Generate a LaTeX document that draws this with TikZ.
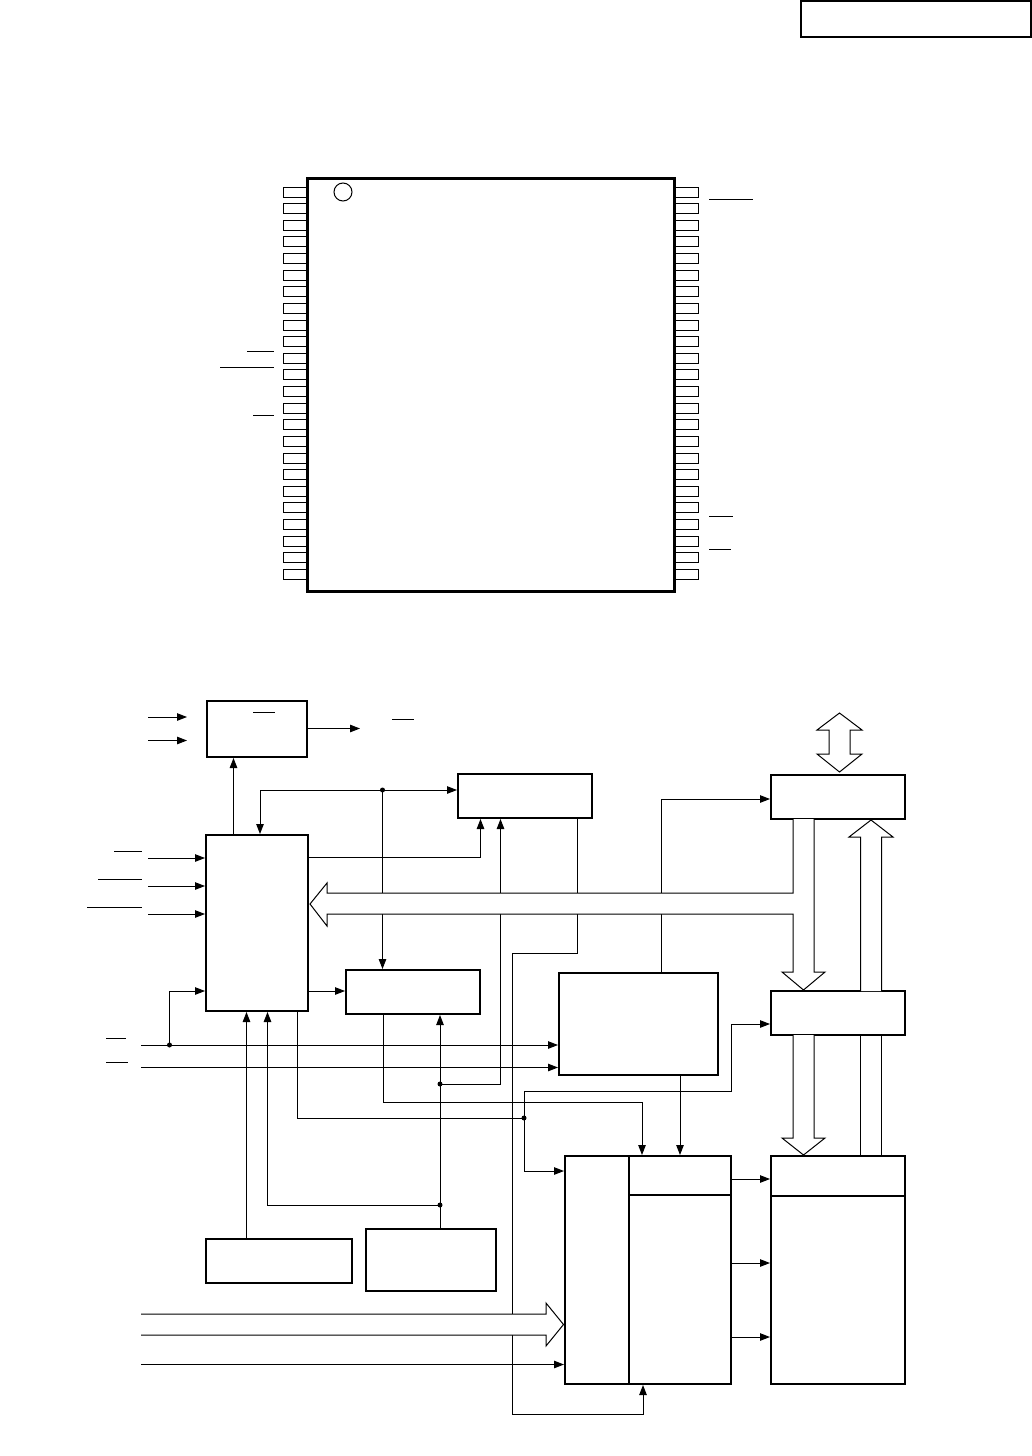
\documentclass[tikz,border=0pt]{standalone}
\usetikzlibrary{arrows.meta}
\tikzset{
  x=1pt,y=-1pt,
  thin line/.style={line width=1pt,line cap=butt,line join=miter},
  flow/.style={thin line,-{Triangle[length=10pt,width=7.5pt]},shorten >=1pt},
  bar/.style={line width=1pt},
  block/.style={draw,line width=2pt,fill=white,inner sep=0pt,outer sep=0pt},
  pin/.style={draw,line width=1pt,fill=white,inner sep=0pt,outer sep=0pt,minimum height=10pt},
  jdot/.style={circle,fill=black,inner sep=0pt,minimum size=5pt},
  bus/.style={draw,line width=1pt,fill=white,line join=miter},
}
\newcommand{\blockat}[6][block]{%
  \node[#1,minimum width={#4-#2},minimum height={#5-#3}] (#6) at ({(#2+#4)/2},{(#3+#5)/2}) {};}
\begin{document}
\begin{tikzpicture}
\useasboundingbox (0,0) rectangle (1032,1456);
\fill[white] (0,0) rectangle (1032,1456);
% header box
\blockat[draw,line width=1.2pt,inner sep=0pt]{801}{1}{1031}{37}{hdr}
% chip pins
\foreach \i in {0,...,23}{
  \pgfmathsetmacro{\yy}{192+16.63*\i}
  \node[pin,minimum width=24pt] (pl\i) at (295,\yy) {};
  \node[pin,minimum width=24pt] (pr\i) at (686,\yy) {};
}
% chip
\blockat[draw,line width=3pt,fill=white,inner sep=0pt]{307}{178.5}{674.5}{591}{chip}
\node[draw,circle,line width=1pt,minimum size=18pt,inner sep=0pt] (mark) at (343,192) {};
% pin overbars
\draw[bar] (247,351)--(274,351);
\draw[bar] (220,367)--(274,367);
\draw[bar] (253,415)--(274,415);
\draw[bar] (709,199)--(753,199);
\draw[bar] (709,516)--(733,516);
\draw[bar] (709,549)--(731,549);
% junctions
\coordinate (ja) at (382.5,790);
\coordinate (jb) at (169.5,1045);
\coordinate (jc) at (440,1084);
\coordinate (jd) at (440,1205);
\coordinate (je) at (524,1118);
% free line ends
\coordinate (inA1) at (148,717);
\coordinate (inA2) at (148,740.5);
\coordinate (outA) at (361,728.5);
\coordinate (in1) at (148,858);
\coordinate (in2) at (148,886);
\coordinate (in3) at (148,914);
\coordinate (in4) at (141,1045);
\coordinate (in5) at (141,1067.5);
\coordinate (in6) at (141,1364.5);
% blocks
\blockat{207}{701}{307}{757}{latch}
\blockat{206}{835}{308}{1011}{ctl}
\blockat{458}{774}{592}{818}{coldec}
\blockat{346}{970}{480}{1014}{rowdec}
\blockat{559}{973}{718}{1075}{logic}
\blockat{771}{775}{905}{819}{iobuf}
\blockat{771}{991}{905}{1035}{amp}
\blockat{206}{1239}{352}{1283}{pwr}
\blockat{366}{1229}{496}{1291}{bias}
\blockat{565}{1156}{731}{1384}{mem}
\blockat{771}{1156}{905}{1384}{array}
% connectors
\draw[flow] (inA1) -- (188,717);
\draw[flow] (inA2) -- (188,740.5);
\draw[flow] (latch.east |- outA) -- (outA);
\draw[flow] (233.5,0 |- ctl.north) -- (233.5,0 |- latch.south);
\draw[flow] (ja) -| (260,0 |- ctl.north);
\draw[flow] (ja) -- (coldec.west |- ja);
\draw[flow] (ja) -- (ja |- rowdec.north);
\draw[flow] (ctl.east |- 0,857) -| (480.5,0 |- coldec.south);
\draw[flow] (in1) -- (ctl.west |- in1);
\draw[flow] (in2) -- (ctl.west |- in2);
\draw[flow] (in3) -- (ctl.west |- in3);
\draw[flow] (ctl.east |- 0,991) -- (rowdec.west |- 0,991);
\draw[flow] (jb) |- (ctl.west |- 0,991);
\draw[flow] (in4) -- (logic.west |- in4);
\draw[flow] (in5) -- (logic.west |- in5);
\draw[flow] (246.5,0 |- pwr.north) -- (246.5,0 |- ctl.south);
\draw[flow] (jd) -| (267.5,0 |- ctl.south);
\draw[flow] (440,0 |- bias.north) -- (440,0 |- rowdec.south);
\draw[flow] (jc) -| (500.5,0 |- coldec.south);
\draw[thin line] (297.5,0 |- ctl.south) |- (je);
\draw[flow] (je) -- (524,1091) -| (731,1024) -- (amp.west |- 0,1024);
\draw[flow] (je) |- (mem.west |- 0,1171);
\draw[flow] (383.5,0 |- rowdec.south) |- (642,1102) -- (642,0 |- mem.north);
\draw[flow] (577.5,0 |- coldec.south) -- (577.5,953) -| (512.5,1414) -| (643,0 |- mem.south);
\draw[flow] (661.5,914) |- (iobuf.west |- 0,799);
\draw[thin line] (661.5,0 |- logic.north) -- (661.5,900);
\draw[flow] (680,0 |- logic.south) -- (680,0 |- mem.north);
\draw[flow] (in6) -- (mem.west |- in6);
\draw[flow] (mem.east |- 0,1179) -- (array.west |- 0,1179);
\draw[flow] (mem.east |- 0,1263) -- (array.west |- 0,1263);
\draw[flow] (mem.east |- 0,1337) -- (array.west |- 0,1337);
% junction dots
\node[jdot] (dja) at (ja) {};
\node[jdot] (djb) at (jb) {};
\node[jdot] (djc) at (jc) {};
\node[jdot] (djd) at (jd) {};
\node[jdot] (dje) at (je) {};
% wide bus arrows
\path[bus] (793,0 |- iobuf.south) -- (793,893) -- (327,893) -- (327,883) -- (310,904) -- (327,926) -- (327,914) -- (793,914) -- (793,972) -- (782,972) -- (803.5,990) -- (825,972) -- (814,972) -- (814,0 |- iobuf.south);
\path[bus] (839.5,713) -- (862,730) -- (850,730) -- (850,754) -- (862,754) -- (839.5,772) -- (817,754) -- (829,754) -- (829,730) -- (817,730) -- cycle;
\path[bus] (860.5,0 |- amp.north) -- (860.5,837) -- (849,837) -- (871,820) -- (893,837) -- (881.5,837) -- (881.5,0 |- amp.north);
\path[bus] (793,0 |- amp.south) -- (793,1138) -- (782,1138) -- (803.5,1155) -- (825,1138) -- (814,1138) -- (814,0 |- amp.south);
\draw[thin line] (860.5,0 |- array.north) -- (860.5,0 |- amp.south);
\draw[thin line] (881.5,0 |- array.north) -- (881.5,0 |- amp.south);
\path[bus] (141,1314) -- (546,1314) -- (546,1303) -- (563.5,1324.5) -- (546,1346) -- (546,1335) -- (141,1335);
% block inner rules
\draw[line width=2pt] (629,0 |- mem.north) -- (629,0 |- mem.south);
\draw[line width=2pt] (629,1195) -- (mem.east |- 0,1195);
\draw[line width=2pt] (array.west |- 0,1196) -- (array.east |- 0,1196);
% overbars
\draw[bar] (253,712)--(275,712);
\draw[bar] (392,719)--(414,719);
\draw[bar] (114,851)--(142,851);
\draw[bar] (98,879)--(142,879);
\draw[bar] (87,907)--(142,907);
\draw[bar] (106,1038)--(126,1038);
\draw[bar] (106,1062)--(128,1062);
\end{tikzpicture}
\end{document}
